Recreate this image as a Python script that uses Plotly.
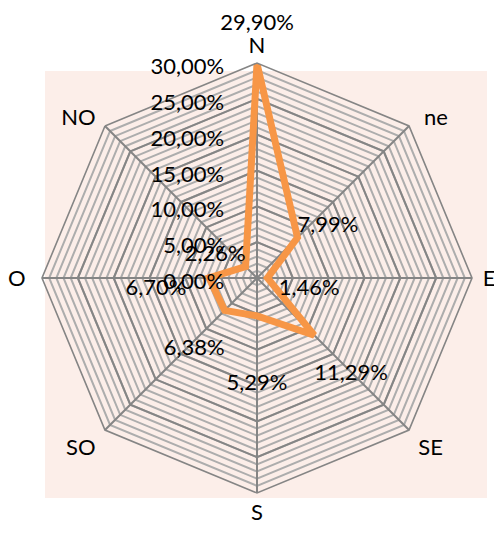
import plotly.graph_objects as go

directions = ["N", "ne", "E", "SE", "S", "SO", "O", "NO"]
direction_labels = ["N", "\u00a0\u00a0ne", "\u00a0E", "\u00a0SE", "S", "SO\u00a0", "O\u00a0\u00a0", "NO\u00a0"]
values = [29.90, 7.99, 1.46, 11.29, 5.29, 6.38, 6.70, 2.26]
value_labels = ["29,90%<br> ", "7,99%", "\u00a0\u00a01,46%", " <br>11,29%", " <br> <br>5,29%",
                " <br>6,38%", "6,70%\u00a0\u00a0\u00a0\u00a0", "2,26%"]
label_positions = ["top center", "top right", "bottom right", "bottom right",
                   "bottom center", "bottom left", "bottom left", "top left"]
major_ticks = [0, 5, 10, 15, 20, 25, 30]
major_tick_labels = ["0,00%", "5,00%", "10,00%", "15,00%", "20,00%", "25,00%", "30,00%"]
minor_ticks = list(range(0, 31))

FONT = "Lato, Open Sans, sans-serif"
FS = 22
PAD = "\u00a0" * 3

fig = go.Figure()

# helper invisible trace to set categories on base subplot
fig.add_trace(go.Scatterpolar(r=[0] * len(directions), theta=directions, mode="lines",
                              line=dict(width=0), hoverinfo="skip", showlegend=False,
                              subplot="polar"))

fig.add_trace(go.Scatterpolar(
    r=values + values[:1], theta=directions + directions[:1],
    mode="lines", line=dict(color="#F79646", width=7),
    hoverinfo="skip", showlegend=False, subplot="polar2"))

fig.add_trace(go.Scatterpolar(
    r=values, theta=directions, mode="text", text=value_labels,
    textposition=label_positions, textfont=dict(size=FS, color="#000000", family=FONT),
    hoverinfo="skip", showlegend=False, subplot="polar2"))

W, H = 502, 544
cx, cy, R = 249, 270, 215
dom_x = [(cx - R) / W, (cx + R) / W]
dom_y = [(H - cy - R) / H, (H - cy + R) / H]

common_ang = dict(type="category", categoryarray=directions, direction="clockwise",
                  rotation=90)

fig.update_layout(
    width=W, height=H,
    margin=dict(l=0, r=0, t=0, b=0),
    paper_bgcolor="white",
    font=dict(family=FONT, size=FS, color="#000000"),
    shapes=[dict(type="rect", xref="paper", yref="paper", layer="below",
                 x0=37 / W, x1=479 / W, y0=(H - 490) / H, y1=(H - 63) / H,
                 fillcolor="#FCEEE9", line=dict(width=0))],
    polar=dict(
        domain=dict(x=dom_x, y=dom_y),
        gridshape="linear",
        bgcolor="rgba(0,0,0,0)",
        radialaxis=dict(range=[0, 30], tickvals=minor_ticks, showticklabels=False,
                        ticks="", showline=False, gridcolor="#ADADAD", gridwidth=1.5),
        angularaxis=dict(**common_ang, showticklabels=False, ticks="",
                         showline=False, showgrid=False),
    ),
    polar2=dict(
        domain=dict(x=dom_x, y=dom_y),
        gridshape="linear",
        bgcolor="rgba(0,0,0,0)",
        radialaxis=dict(range=[0, 30], tickvals=major_ticks,
                        ticktext=[t + PAD for t in major_tick_labels],
                        angle=90, side="counterclockwise", ticks="", showline=False,
                        gridcolor="#858585", gridwidth=1.6,
                        tickfont=dict(size=FS, family=FONT, color="#000000")),
        angularaxis=dict(**common_ang, tickmode="array", tickvals=directions,
                         ticktext=direction_labels,
                         ticks="", showline=True, linecolor="#858585",
                         linewidth=1.6, gridcolor="#858585", gridwidth=1.6,
                         tickfont=dict(size=FS, family=FONT, color="#000000")),
    ),
)

fig.write_html("out.html")
